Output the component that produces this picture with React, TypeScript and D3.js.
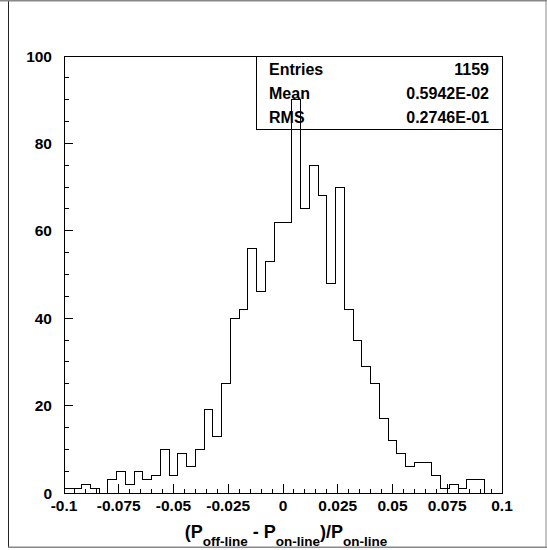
import React from "react";
import * as d3 from "d3";

// Histogram: 50 bins from -0.1 to 0.1
const binLow = -0.1;
const binHigh = 0.1;
const counts = [
  1, 1, 2, 1, 0, 3, 5, 2, 5, 3,
  4, 10, 4, 9, 6, 10, 19, 13, 25, 40,
  42, 56, 46, 53, 62, 62, 90, 65, 75, 68,
  48, 70, 42, 35, 29, 25, 17, 12, 9, 6,
  7, 7, 4, 1, 2, 1, 3, 3, 0, 0,
];
const xTickLabels = ["-0.1", "-0.075", "-0.05", "-0.025", "0", "0.025", "0.05", "0.075", "0.1"];
const xTickValues = [-0.1, -0.075, -0.05, -0.025, 0, 0.025, 0.05, 0.075, 0.1];
const yTickValues = [0, 20, 40, 60, 80, 100];
const statsLabels = ["Entries", "Mean", "RMS"];
const statsValues = ["1159", "0.5942E-02", "0.2746E-01"];

const W = 547;
const H = 550;
const FONT = "'Liberation Sans', Arial, Helvetica, sans-serif";

export default function App() {
  const x = d3.scaleLinear().domain([binLow, binHigh]).range([64, 502]);
  const y = d3.scaleLinear().domain([0, 100]).range([493, 56]);
  const n = counts.length;
  const bw = (binHigh - binLow) / n;

  // step outline
  const pts: [number, number][] = [];
  pts.push([x(binLow), y(0)]);
  counts.forEach((c, i) => {
    const x0 = binLow + i * bw;
    const x1 = x0 + bw;
    pts.push([x(x0), y(c)]);
    pts.push([x(x1), y(c)]);
  });
  pts.push([x(binHigh), y(0)]);
  const line = d3.line<[number, number]>().x((d) => d[0]).y((d) => d[1]);

  const xMinor = d3.range(0, 41).map((i) => binLow + i * 0.005);
  const yMinor = d3.range(0, 21).map((i) => i * 5);

  const boxX0 = 256, boxX1 = 502, boxY0 = 56, boxY1 = 129;
  const statBaselines = [74.5, 99, 122.5];
  const subDy = 8;

  return (
    <svg
      width={W}
      height={H}
      style={{ position: "absolute", left: 0, top: 0, background: "#fff" }}
      fontFamily={FONT}
      fontWeight="bold"
    >
      <rect x={0} y={0} width={W} height={H} fill="#fff" />
      {/* canvas border */}
      <line x1={8.5} y1={0} x2={8.5} y2={548} stroke="#222" strokeWidth={1} />
      <line x1={0} y1={0.75} x2={W} y2={0.75} stroke="#888" strokeWidth={1.5} />
      <line x1={8} y1={547.25} x2={W} y2={547.25} stroke="#888" strokeWidth={1.5} />
      <line x1={546} y1={0} x2={546} y2={548} stroke="#888" strokeWidth={1} />

      {/* frame */}
      <rect
        x={x(binLow)}
        y={y(100)}
        width={x(binHigh) - x(binLow)}
        height={y(0) - y(100)}
        fill="none"
        stroke="#000"
        strokeWidth={1}
        shapeRendering="crispEdges"
      />

      {/* x ticks */}
      {xMinor.map((v, i) => {
        const major = i % 5 === 0;
        return (
          <line
            key={"xt" + i}
            x1={x(v)}
            x2={x(v)}
            y1={y(0)}
            y2={y(0) - (major ? 9 : 4.5)}
            stroke="#000"
            strokeWidth={1}
            shapeRendering="crispEdges"
          />
        );
      })}
      {/* y ticks */}
      {yMinor.map((v, i) => {
        const major = i % 4 === 0;
        return (
          <line
            key={"yt" + i}
            x1={x(binLow)}
            x2={x(binLow) + (major ? 9 : 4.5)}
            y1={y(v)}
            y2={y(v)}
            stroke="#000"
            strokeWidth={1}
            shapeRendering="crispEdges"
          />
        );
      })}

      {/* x tick labels */}
      {xTickValues.map((v, i) => (
        <text key={"xl" + i} x={x(v)} y={511} textAnchor="middle" fontSize={15.5} fill="#000">
          {xTickLabels[i]}
        </text>
      ))}
      {/* y tick labels */}
      {yTickValues.map((v) => (
        <text key={"yl" + v} x={52} y={y(v) + 5.5} textAnchor="end" fontSize={15.5} fill="#000">
          {String(v)}
        </text>
      ))}

      {/* stats box */}
      <rect
        x={boxX0}
        y={boxY0}
        width={boxX1 - boxX0}
        height={boxY1 - boxY0}
        fill="#fff"
        stroke="#000"
        strokeWidth={1}
        shapeRendering="crispEdges"
      />
      {statsLabels.map((l, i) => (
        <g key={"st" + i}>
          <text x={269} y={statBaselines[i]} fontSize={16} fill="#000">
            {l}
          </text>
          <text x={489} y={statBaselines[i]} fontSize={16} textAnchor="end" fill="#000">
            {statsValues[i]}
          </text>
        </g>
      ))}

      {/* histogram */}
      <path d={line(pts) || ""} fill="none" stroke="#000" strokeWidth={1} shapeRendering="crispEdges" />

      {/* axis title */}
      <text x={286} y={537.5} textAnchor="middle" fontSize={18} fill="#000">
        <tspan>(P</tspan>
        <tspan fontSize={13.5} dy={subDy}>off-line</tspan>
        <tspan dy={-subDy}> - P</tspan>
        <tspan fontSize={13.5} dy={subDy}>on-line</tspan>
        <tspan dy={-subDy}>)/P</tspan>
        <tspan fontSize={13.5} dy={subDy}>on-line</tspan>
      </text>
    </svg>
  );
}
